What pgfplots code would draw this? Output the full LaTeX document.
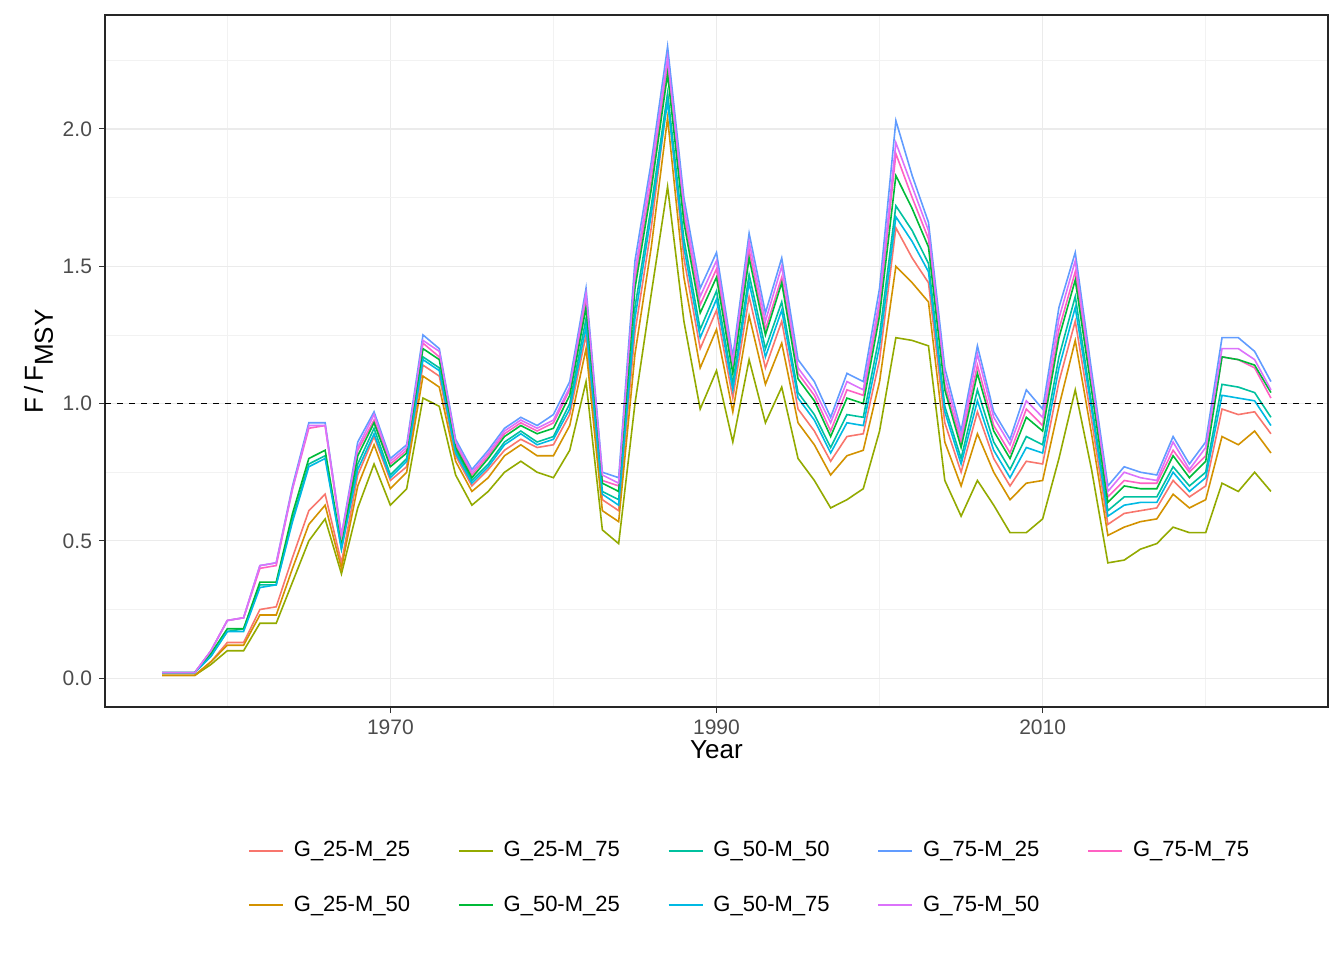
\documentclass[border=0pt]{standalone}
\usepackage{pgfplots}
\pgfplotsset{compat=1.18}
\usepackage{pgfplotstable}
\usepackage{fontspec}
\setmainfont{Liberation Sans}
\definecolor{c1}{HTML}{F8766D}
\definecolor{c2}{HTML}{D39200}
\definecolor{c3}{HTML}{93AA00}
\definecolor{c4}{HTML}{00BA38}
\definecolor{c5}{HTML}{00C19F}
\definecolor{c6}{HTML}{00B9E3}
\definecolor{c7}{HTML}{619CFF}
\definecolor{c8}{HTML}{DB72FB}
\definecolor{c9}{HTML}{FF61C3}
\pgfplotstableread{
yr red or ol gr te cy bl vi pk
1956 .01 .01 .01 .02 .02 .02 .02 .02 .02
1957 .01 .01 .01 .02 .02 .02 .02 .02 .02
1958 .01 .01 .01 .02 .02 .02 .02 .02 .02
1959 .06 .06 .05 .09 .08 .08 .10 .10 .10
1960 .13 .12 .10 .18 .17 .17 .21 .21 .21
1961 .13 .12 .10 .18 .18 .17 .22 .22 .22
1962 .25 .23 .20 .35 .34 .33 .41 .41 .40
1963 .26 .23 .20 .35 .34 .34 .42 .42 .41
1964 .44 .40 .35 .60 .58 .57 .70 .69 .69
1965 .61 .56 .50 .80 .78 .77 .93 .92 .91
1966 .67 .63 .58 .83 .81 .80 .93 .92 .92
1967 .42 .40 .38 .48 .47 .47 .52 .52 .51
1968 .74 .70 .62 .81 .78 .76 .86 .84 .83
1969 .88 .85 .78 .93 .91 .89 .97 .96 .94
1970 .72 .69 .63 .77 .74 .73 .80 .79 .78
1971 .77 .75 .69 .82 .80 .79 .85 .84 .83
1972 1.14 1.10 1.02 1.20 1.17 1.16 1.25 1.23 1.22
1973 1.10 1.06 .99 1.16 1.13 1.12 1.20 1.19 1.17
1974 .81 .79 .74 .84 .83 .82 .87 .86 .85
1975 .70 .68 .63 .73 .72 .71 .76 .75 .74
1976 .76 .73 .68 .80 .78 .77 .83 .82 .81
1977 .83 .81 .75 .88 .86 .85 .91 .90 .89
1978 .87 .85 .79 .92 .90 .89 .95 .94 .93
1979 .84 .81 .75 .89 .86 .85 .92 .91 .90
1980 .85 .81 .73 .91 .88 .87 .96 .94 .93
1981 .96 .92 .83 1.03 1.00 .98 1.08 1.06 1.05
1982 1.25 1.20 1.08 1.35 1.31 1.28 1.42 1.40 1.37
1983 .65 .61 .54 .71 .68 .67 .75 .74 .72
1984 .61 .57 .49 .68 .65 .63 .73 .71 .70
1985 1.26 1.18 1.00 1.42 1.35 1.31 1.52 1.48 1.45
1986 1.64 1.57 1.40 1.78 1.72 1.69 1.88 1.85 1.81
1987 2.12 2.04 1.79 2.20 2.13 2.10 2.30 2.26 2.23
1988 1.53 1.46 1.30 1.66 1.60 1.57 1.75 1.72 1.69
1989 1.20 1.13 .98 1.33 1.27 1.24 1.42 1.39 1.36
1990 1.34 1.27 1.12 1.46 1.41 1.38 1.55 1.52 1.49
1991 1.02 .97 .86 1.11 1.07 1.05 1.17 1.15 1.13
1992 1.39 1.32 1.16 1.53 1.47 1.44 1.62 1.59 1.56
1993 1.13 1.07 .93 1.25 1.20 1.17 1.33 1.30 1.27
1994 1.30 1.22 1.06 1.44 1.37 1.34 1.53 1.50 1.46
1995 .98 .93 .80 1.09 1.04 1.02 1.16 1.13 1.11
1996 .90 .85 .72 1.01 .96 .94 1.08 1.05 1.03
1997 .79 .74 .62 .88 .84 .82 .95 .93 .90
1998 .88 .81 .65 1.02 .96 .93 1.11 1.08 1.05
1999 .89 .83 .69 1.00 .95 .92 1.08 1.05 1.03
2000 1.16 1.08 .90 1.32 1.25 1.21 1.42 1.38 1.35
2001 1.64 1.50 1.24 1.83 1.72 1.68 2.03 1.95 1.91
2002 1.53 1.44 1.23 1.71 1.63 1.59 1.83 1.79 1.75
2003 1.44 1.37 1.21 1.57 1.51 1.48 1.66 1.63 1.60
2004 .93 .86 .72 1.05 .99 .97 1.13 1.10 1.07
2005 .75 .70 .59 .84 .80 .78 .90 .88 .86
2006 .97 .89 .72 1.11 1.05 1.01 1.21 1.18 1.14
2007 .80 .75 .63 .90 .86 .83 .97 .95 .92
2008 .70 .65 .53 .80 .76 .73 .87 .85 .82
2009 .79 .71 .53 .95 .88 .84 1.05 1.01 .98
2010 .78 .72 .58 .90 .85 .82 .98 .95 .92
2011 1.08 .99 .80 1.24 1.17 1.13 1.35 1.31 1.27
2012 1.30 1.23 1.05 1.45 1.39 1.35 1.55 1.52 1.48
2013 .94 .89 .76 1.05 1.00 .98 1.12 1.09 1.07
2014 .56 .52 .42 .64 .61 .59 .70 .68 .66
2015 .60 .55 .43 .70 .66 .63 .77 .75 .72
2016 .61 .57 .47 .69 .66 .64 .75 .73 .71
2017 .62 .58 .49 .69 .66 .64 .74 .72 .71
2018 .72 .67 .55 .81 .77 .75 .88 .86 .83
2019 .66 .62 .53 .73 .70 .68 .78 .76 .75
2020 .70 .65 .53 .79 .75 .73 .86 .84 .81
2021 .98 .88 .71 1.17 1.07 1.03 1.24 1.20 1.17
2022 .96 .85 .68 1.16 1.06 1.02 1.24 1.20 1.16
2023 .97 .90 .75 1.14 1.04 1.01 1.19 1.16 1.13
2024 .89 .82 .68 1.04 .95 .92 1.08 1.05 1.02
}\data
\begin{document}
\begin{tikzpicture}
\begin{axis}[name=ax,
  scale only axis, width=611.5pt, height=346pt,
  xmin=1952.5, xmax=2027.5, ymin=-0.105, ymax=2.415,
  xtick={1970,1990,2010}, minor xtick={1960,1980,2000,2020},
  ytick={0,0.5,1,1.5,2}, minor ytick={0.25,0.75,1.25,1.75,2.25},
  yticklabels={0.0,0.5,1.0,1.5,2.0},
  xticklabels={1970,1990,2010},
  grid=both,
  major grid style={color=black!8, line width=0.6pt},
  minor grid style={color=black!5, line width=0.3pt},
  axis line style={black!85, line width=0.6pt},
  tick align=outside, major tick length=3pt, minor tick length=0pt,
  tick style={black!80, line width=0.5pt},
  xtick pos=bottom, ytick pos=left,
  ticklabel style={font=\fontsize{10.5}{12}\selectfont, text=black!70},
  xlabel={Year}, ylabel={F\,/\,F$_{\textrm{MSY}}$},
  label style={font=\fontsize{13}{15}\selectfont},
  xlabel style={yshift=4pt}, ylabel style={yshift=-2pt},
  every axis plot/.append style={line width=0.8pt, no markers},
  legend columns=5,
  legend style={at={(rel axis cs:0.528,-0.247)}, anchor=center, draw=none,
    font=\fontsize{11}{13}\selectfont, row sep=14pt,
    /tikz/every odd column/.append style={column sep=3pt},
    /tikz/every even column/.append style={column sep=22pt}},
  legend cell align=left,
  legend image code/.code={\draw[#1, line width=0.8pt] (0pt,0pt) -- (17pt,0pt);},
  clip=true,
]
\addplot[c1] table[x=yr,y=red]{\data}; \addlegendentry{G\_25-M\_25}
\addplot[c3] table[x=yr,y=ol]{\data}; \addlegendentry{G\_25-M\_75}
\addplot[c5] table[x=yr,y=te]{\data}; \addlegendentry{G\_50-M\_50}
\addplot[c7] table[x=yr,y=bl]{\data}; \addlegendentry{G\_75-M\_25}
\addplot[c9] table[x=yr,y=pk]{\data}; \addlegendentry{G\_75-M\_75}
\addplot[c2] table[x=yr,y=or]{\data}; \addlegendentry{G\_25-M\_50}
\addplot[c4] table[x=yr,y=gr]{\data}; \addlegendentry{G\_50-M\_25}
\addplot[c6] table[x=yr,y=cy]{\data}; \addlegendentry{G\_50-M\_75}
\addplot[c8] table[x=yr,y=vi]{\data}; \addlegendentry{G\_75-M\_50}
\addplot[black, dashed, line width=0.6pt, forget plot] coordinates {(1952.5,1) (2027.5,1)};
\node[font=\fontsize{13}{15}\selectfont] at (rel axis cs:0.095,-0.247) {OM};
\end{axis}
\pgfresetboundingbox
\path ([shift={(-52.5pt,-126.5pt)}]ax.south west) rectangle ([shift={(8pt,7.5pt)}]ax.north east);
\end{tikzpicture}
\end{document}
